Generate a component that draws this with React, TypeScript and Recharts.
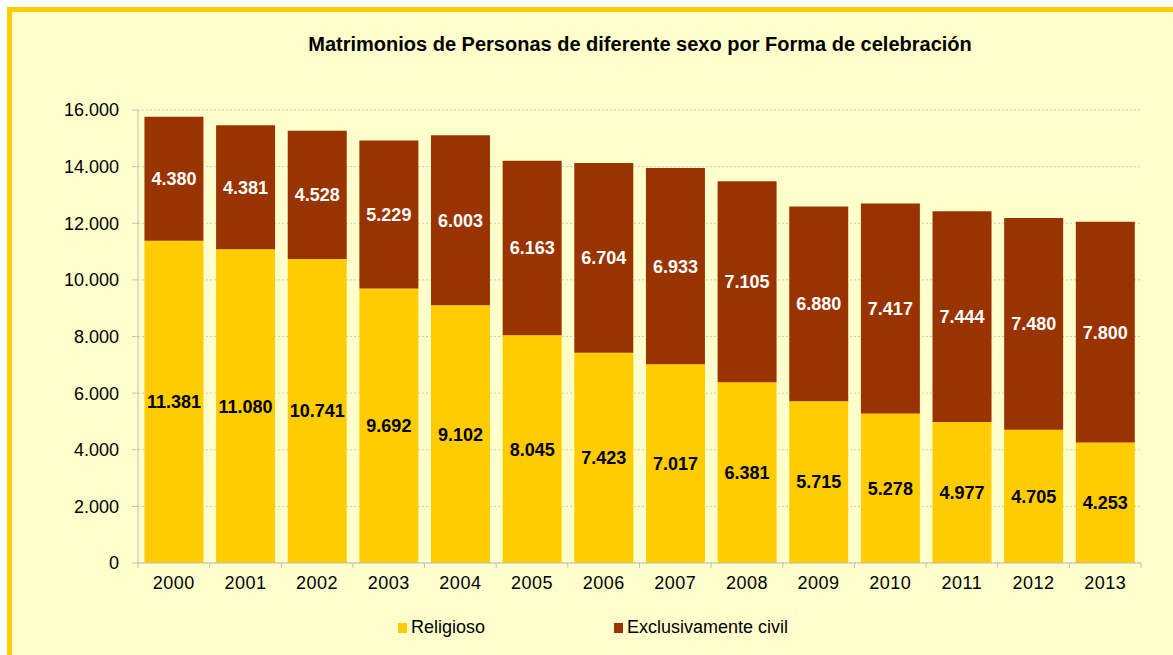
import React from "react";
import { BarChart, Bar, XAxis, YAxis, CartesianGrid, LabelList } from "recharts";

const years = ["2000","2001","2002","2003","2004","2005","2006","2007","2008","2009","2010","2011","2012","2013"];
const religioso = [11381, 11080, 10741, 9692, 9102, 8045, 7423, 7017, 6381, 5715, 5278, 4977, 4705, 4253];
const civil = [4380, 4381, 4528, 5229, 6003, 6163, 6704, 6933, 7105, 6880, 7417, 7444, 7480, 7800];
const yTicks = [0, 2000, 4000, 6000, 8000, 10000, 12000, 14000, 16000];
const title = "Matrimonios de Personas de diferente sexo por Forma de celebración";
const seriesNames = ["Religioso", "Exclusivamente civil"];

const data = years.map((y, i) => ({ year: y, religioso: religioso[i], civil: civil[i] }));

const FONT = "'Liberation Sans', Arial, sans-serif";
const fmt = (v: number) => v.toLocaleString("de-DE");

const XTick = (props: any) => {
  const { x, y, payload, index, visibleTicksCount } = props;
  const half = payload && payload.offset ? payload.offset : 35.86;
  const axisY = y - 8;
  return (
    <g>
      <line x1={x - half} x2={x - half} y1={axisY} y2={axisY + 5} stroke="#BFBFBF" />
      {index === visibleTicksCount - 1 && (
        <line x1={x + half} x2={x + half} y1={axisY} y2={axisY + 5} stroke="#BFBFBF" />
      )}
      <text x={x} y={axisY + 26} textAnchor="middle" fontSize={18} letterSpacing={0.5} fontFamily={FONT} fill="#000">
        {payload.value}
      </text>
    </g>
  );
};

export default function App() {
  return (
    <div style={{ position: "fixed", left: 0, top: 0, width: 1173, height: 655, overflow: "hidden", background: "#fff" }}>
      <div
        style={{
          position: "absolute",
          left: 7,
          top: 7,
          width: 1300,
          height: 800,
          border: "5px solid #FFCC00",
          background: "#FFFFCC",
          boxSizing: "border-box",
        }}
      >
        <div
          style={{
            position: "absolute",
            left: 628,
            top: 21,
            transform: "translateX(-50%)",
            whiteSpace: "nowrap",
            fontFamily: FONT,
            fontWeight: "bold",
            fontSize: 20,
            lineHeight: "23px",
            color: "#000",
          }}
        >
          {title}
        </div>
        <div style={{ position: "absolute", left: 0, top: 0 }}>
          <BarChart
            width={1161}
            height={643}
            data={data}
            margin={{ top: 98, right: 32, bottom: 62, left: 0 }}
            barCategoryGap="9%"
          >
            <CartesianGrid vertical={false} stroke="#C8C8C8" strokeDasharray="2 2" />
            <XAxis
              dataKey="year"
              height={30}
              stroke="#BFBFBF"
              tickLine={false}
              tick={<XTick />}
              interval={0}
            />
            <YAxis
              width={126}
              domain={[0, 16000]}
              ticks={yTicks}
              stroke="#BFBFBF"
              tickSize={6}
              tickMargin={13}
              tickFormatter={fmt}
              tick={{ fontSize: 18, fontFamily: FONT, fill: "#000" }}
            />
            <Bar dataKey="religioso" stackId="a" fill="#FFCC00" isAnimationActive={false}>
              <LabelList
                dataKey="religioso"
                position="center"
                formatter={(v: any) => fmt(Number(v))}
                style={{ fontSize: 18, fontWeight: "bold", fontFamily: FONT, fill: "#000" }}
              />
            </Bar>
            <Bar dataKey="civil" stackId="a" fill="#993300" isAnimationActive={false}>
              <LabelList
                dataKey="civil"
                position="center"
                formatter={(v: any) => fmt(Number(v))}
                style={{ fontSize: 18, fontWeight: "bold", fontFamily: FONT, fill: "#fff" }}
              />
            </Bar>
          </BarChart>
        </div>
        <div style={{ position: "absolute", left: 386, top: 605, fontFamily: FONT, fontSize: 18, color: "#000", display: "flex", alignItems: "center" }}>
          <span style={{ display: "inline-block", width: 9, height: 10, background: "#FFCC00", marginRight: 4 }} />
          <span>{seriesNames[0]}</span>
        </div>
        <div style={{ position: "absolute", left: 602, top: 605, fontFamily: FONT, fontSize: 18, color: "#000", display: "flex", alignItems: "center" }}>
          <span style={{ display: "inline-block", width: 9, height: 10, background: "#993300", marginRight: 4 }} />
          <span>{seriesNames[1]}</span>
        </div>
      </div>
    </div>
  );
}
